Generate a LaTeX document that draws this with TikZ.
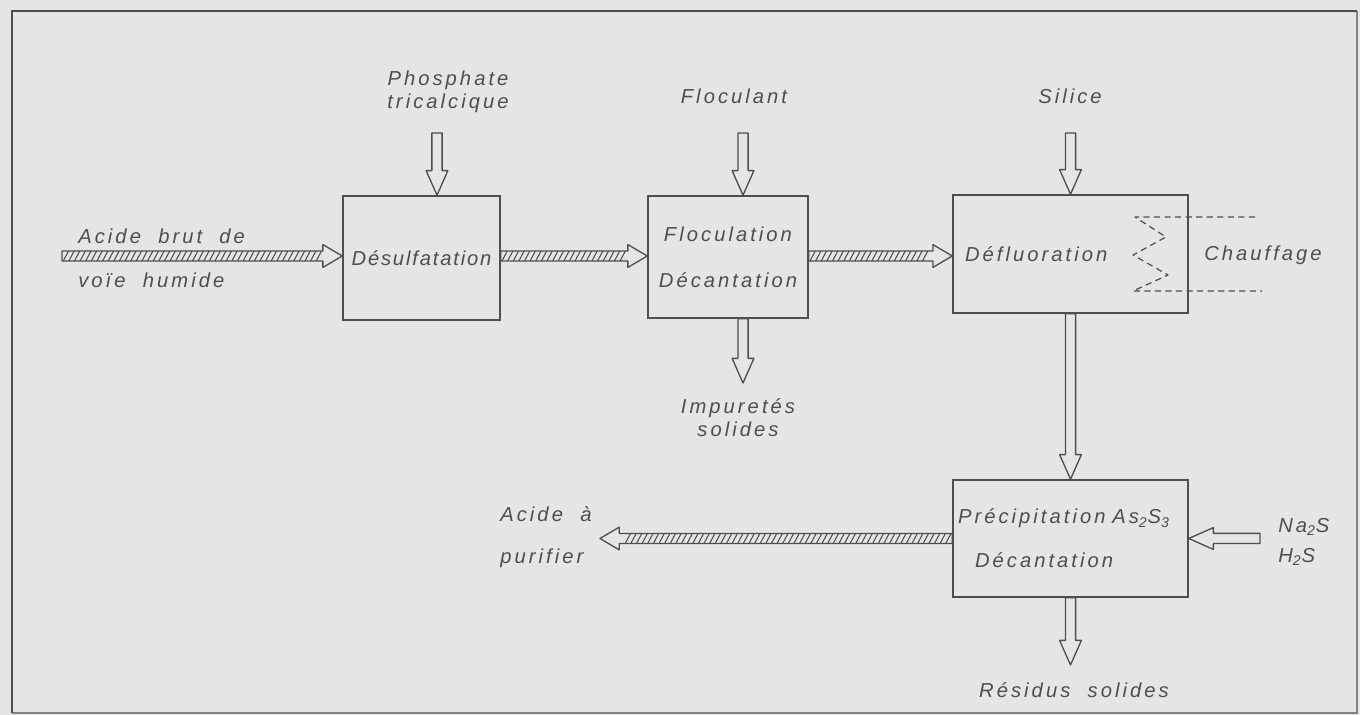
\documentclass[tikz,border=0pt]{standalone}
\usepackage{fontspec}
\newfontfamily\letterfont{Liberation Sans}[LetterSpace=15,WordSpace=2]
\newcommand\lettering{\letterfont\itshape\fontsize{11.5}{14}\selectfont}
\usetikzlibrary{calc, decorations.markings}
\definecolor{paper}{HTML}{E5E5E5}
\definecolor{ink}{HTML}{4E4E4E}

\tikzset{
  box/.style={draw=ink, line width=0.9pt, font=\lettering, text=ink},
  txt/.style={font=\lettering, text=ink, inner sep=0pt},
  flowline/.style={draw=ink, line width=0.75pt, fill=paper, line join=round, x=1pt, y=1pt},
  openflow/.style={decorate, decoration={markings, mark=at position 0 with {
      \pgfmathsetmacro\flowlen{\pgfdecoratedpathlength}
      \pgfmathsetmacro\flowneck{\flowlen-14}
      \draw[flowline] (0,-2.9) -- (\flowneck,-2.9) -- (\flowneck,-6.2) -- (\flowlen,0)
        -- (\flowneck,6.2) -- (\flowneck,2.9) -- (0,2.9) -- cycle;}}},
  hatchflow/.style={decorate, decoration={markings, mark=at position 0 with {
      \pgfmathsetmacro\flowlen{\pgfdecoratedpathlength}
      \pgfmathsetmacro\flowneck{\flowlen-11}
      \pgfmathsetmacro\hatchend{\flowneck-2}
      \draw[flowline] (0,-2.8) -- (\flowneck,-2.8) -- (\flowneck,-6.5) -- (\flowlen,0)
        -- (\flowneck,6.5) -- (\flowneck,2.8) -- (0,2.8) -- cycle;
      \foreach \h in {2.2,5.4,...,\hatchend}
        \draw[ink, line width=0.6pt, x=1pt, y=1pt] (\h-1.5,-2.8) -- (\h+1.5,2.8);}}}
}

\begin{document}
\begin{tikzpicture}[x=0.02cm, y=-0.02cm]
  \useasboundingbox[fill=paper] (0,0) rectangle (1360,715);
  \draw[ink!70, line width=0.8pt] (1357,11) -- (1357,713) -- (12,713);
  \draw[ink, line width=1.6pt] (12,713) -- (12,11) -- (1357,11);

  % process boxes
  \node (n1) [box, minimum width=3.14cm, minimum height=2.48cm, inner xsep=1pt, font={\lettering\addfontfeature{LetterSpace=9}}] at (421.5,258) {D\'esulfatation};
  \node (n2) [box, minimum width=3.2cm, minimum height=2.44cm, align=center] at (728,257) {Floculation\\[12pt]D\'ecantation};
  \node (n3) [box, text width=4.22cm, inner xsep=0.24cm, minimum height=2.36cm, align=left] at (1070.5,254) {D\'efluoration};
  \node (n4) [box, text width=4.5cm, inner xsep=0.1cm, minimum height=2.34cm, align=left] at (1070.5,538.5) {Pr\'ecipitation As\textsubscript{2}S\textsubscript{3}\\[11pt]\hspace*{0.34cm}D\'ecantation};

  % texts
  \node (t1) [txt, anchor=west] at (78,236) {Acide brut de};
  \node (t2) [txt, anchor=west] at (78,280) {vo\"ie humide};
  \node (t3) [txt, align=center] at (448,92) {Phosphate\\[-1pt]tricalcique};
  \node (t4) [txt] at (734,96) {Floculant};
  \node (t5) [txt] at (1070,96) {Silice};
  \node (t6) [txt, align=center] at (738,418) {Impuret\'es\\[-1pt]solides};
  \node (t7) [txt] at (1263,255) {Chauffage};
  \node (t8) [txt, anchor=west, align=left] at (500,537) {Acide \`a\\[10pt]purifier};
  \node (t9) [txt, anchor=west, align=left] at (1278,542) {Na\textsubscript{2}S\\[3pt]H\textsubscript{2}S};
  \node (t10) [txt] at (1074,690) {R\'esidus solides};

  % free ends
  \coordinate (c0) at (62,256);
  \coordinate (c1) at (600,538.5);
  \coordinate (c2) at (437,133);
  \coordinate (c3) at (743,133);
  \coordinate (c4) at (1070.5,133);
  \coordinate (c5) at (743,383);
  \coordinate (c6) at (1260,538.5);
  \coordinate (c7) at (1070.5,665);

  % acid flow
  \path[hatchflow] (c0) -- (n1.west |- c0);
  \path[hatchflow] (n1.east |- c0) -- (n2.west |- c0);
  \path[hatchflow] (n2.east |- c0) -- (n3.west |- c0);
  \path[hatchflow] (n4.west) -- (c1);

  % reagents and residues
  \path[openflow] (c2) -- (c2 |- n1.north);
  \path[openflow] (c3) -- (c3 |- n2.north);
  \path[openflow] (c4) -- (n3.north);
  \path[openflow] (c5 |- n2.south) -- (c5);
  \path[openflow] (n3.south) -- (n4.north);
  \path[openflow] (c6) -- (n4.east);
  \path[openflow] (n4.south) -- (c7);

  % heating coil
  \draw[ink, line width=0.7pt, dash pattern=on 3.5pt off 2.5pt, line join=round]
    (1255,217) -- (1135,217) -- (1166,237) -- (1133,255) -- (1168,275) -- (1133,291) -- (1262,291);
\end{tikzpicture}
\end{document}
